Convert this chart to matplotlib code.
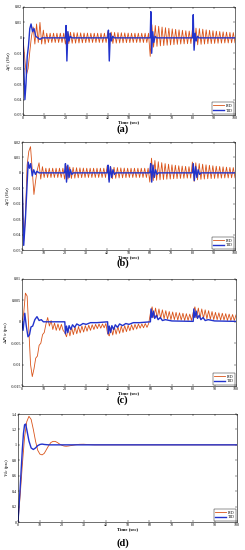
import numpy as np
import matplotlib
matplotlib.use("Agg")
import matplotlib.pyplot as plt
from matplotlib.ticker import FuncFormatter

plt.rcParams['font.family'] = ['Liberation Serif', 'DejaVu Serif']
plt.rcParams['mathtext.fontset'] = 'stix'
plt.rcParams['axes.unicode_minus'] = False

STEP = 0.8  # sampling step of the PID oscillation read-out (sec)

# ---- panel (a): delta f1 ----
a_pid = [0, -0.013, -0.024, -0.020, -0.009, 0.001, 0.007, -0.004, 0.009, -0.003,
         0.010, -0.004, 0.005, -0.004, 0.003, -0.003, 0.003, -0.003, 0.003, -0.003,
         0.003, -0.003, 0.003, -0.003, 0.003,
         -0.004, 0.004, -0.0037, 0.0036, -0.0035, 0.0034, -0.0034, 0.0033, -0.0033, 0.0032,
         -0.0032, 0.0031, -0.0031, 0.0031, -0.003, 0.003, -0.003, 0.003, -0.003, 0.003,
         -0.003, 0.003, -0.003, 0.003, -0.003,
         0.004, -0.004, 0.0037, -0.0036, 0.0035, -0.0034, 0.0034, -0.0033, 0.0033, -0.0032,
         0.0032, -0.0031, 0.0031, -0.0031, 0.003, -0.003, 0.003, -0.003, 0.003, -0.003,
         0.003, -0.003, 0.003, -0.003, 0.003,
         -0.012, 0.0085, -0.006, 0.008, -0.0055, 0.0075, -0.0052, 0.007, -0.005, 0.0066,
         -0.0048, 0.0062, -0.0046, 0.0058, -0.0044, 0.0055, -0.0042, 0.0052, -0.004, 0.0049,
         -0.0039, 0.0046, -0.0038, 0.0044, -0.0037,
         0.0065, -0.006, 0.0063, -0.0045, 0.006, -0.0042, 0.0056, -0.004, 0.0052, -0.0038,
         0.0049, -0.0037, 0.0046, -0.0036, 0.0043, -0.0035, 0.0041, -0.0034, 0.0039, -0.0033,
         0.0037, -0.0033, 0.0035, -0.0032, 0.0034, -0.0032]
a_tid_t = [0, 0.4, 0.9, 1.4, 2.0, 2.6, 3.2, 3.8, 4.5, 5.2, 6, 7, 8, 9,
           20, 20.3, 20.7, 21.2, 21.7, 22.3, 23,
           40, 40.3, 40.7, 41.2, 41.7, 42.3, 43,
           60, 60.3, 60.7, 61.2, 61.7, 62.3, 63,
           80, 80.3, 80.7, 81.2, 81.7, 82.3, 83, 100]
a_tid = [0, -0.02, -0.04, -0.03, -0.012, -0.005, 0.006, 0.009, 0.004, 0.006, 0.001, 0.0, -0.001, 0,
         0, 0.008, -0.015, 0.004, -0.002, 0.001, 0,
         0, 0.005, -0.015, 0.003, -0.002, 0.001, 0,
         0, 0.017, -0.010, 0.004, -0.003, 0.001, 0,
         0, 0.015, -0.008, 0.003, -0.002, 0.001, 0, 0]

# ---- panel (b): delta f2 ----
b_pid = [0, -0.044, -0.028, 0.005, 0.014, 0.017, 0.002, -0.014, -0.005, 0.002,
         0.0065, -0.004, 0.004, -0.003, 0.003, -0.003, 0.003, -0.003, 0.003, -0.003,
         0.003, -0.003, 0.003, -0.003, 0.003,
         -0.004, 0.0045, -0.004, 0.0038, -0.0036, 0.0035, -0.0034, 0.0033, -0.0032, 0.0032,
         -0.0031, 0.0031, -0.003, 0.003, -0.003, 0.003, -0.003, 0.003, -0.003, 0.003,
         -0.003, 0.003, -0.003, 0.003, -0.003,
         0.0045, -0.0045, 0.004, -0.0038, 0.0036, -0.0035, 0.0034, -0.0033, 0.0032, -0.0032,
         0.0031, -0.0031, 0.003, -0.003, 0.003, -0.003, 0.003, -0.003, 0.003, -0.003,
         0.003, -0.003, 0.003, -0.003, 0.003,
         -0.006, 0.0095, -0.005, 0.008, -0.0048, 0.0072, -0.0045, 0.0066, -0.0043, 0.006,
         -0.0041, 0.0056, -0.004, 0.0052, -0.0038, 0.0049, -0.0037, 0.0046, -0.0036, 0.0044,
         -0.0035, 0.0042, -0.0034, 0.004, -0.0034,
         0.007, -0.0055, 0.0065, -0.0045, 0.006, -0.0042, 0.0056, -0.004, 0.0052, -0.0038,
         0.0049, -0.0037, 0.0046, -0.0036, 0.0043, -0.0035, 0.0041, -0.0034, 0.0039, -0.0033,
         0.0037, -0.0033, 0.0035, -0.0032, 0.0034, -0.0032]
b_tid_t = [0, 0.8, 1.6, 2.3, 2.9, 3.5, 4.1, 4.8, 5.5, 6.3, 7, 8,
           20, 20.4, 20.9, 21.5, 22.1, 22.7, 23.4, 24,
           40, 40.4, 40.9, 41.5, 42.1, 42.7, 43.4, 44,
           60, 60.4, 60.9, 61.5, 62.1, 62.7, 63.4, 64,
           80, 80.4, 80.9, 81.5, 82.1, 82.7, 83.4, 84, 100]
b_tid = [0, -0.047, -0.03, -0.01, 0.007, 0.003, 0.006, -0.002, 0.002, -0.001, 0.001, 0,
         0, 0.006, -0.006, 0.005, -0.003, 0.002, -0.001, 0,
         0, 0.005, -0.006, 0.004, -0.003, 0.002, -0.001, 0,
         0, 0.006, -0.006, 0.005, -0.003, 0.002, -0.001, 0,
         0, 0.006, -0.005, 0.004, -0.003, 0.002, -0.001, 0, 0]

# ---- panel (c): delta P tie ----
c_pid = [0, 0.002, 0.0067, 0.006, -0.002, -0.010, -0.0128, -0.011, -0.0085, -0.008,
         -0.0055, -0.005, -0.003, -0.0025, -0.0005, 0.001, -0.001, 0.0003, -0.0018, -0.0003,
         -0.002, -0.0005, -0.002, -0.0006, -0.002,
         -0.0025, -0.0035, -0.0015, -0.0033, -0.0013, -0.003, -0.0012, -0.0028, -0.0011, -0.0026,
         -0.001, -0.0024, -0.0009, -0.0022, -0.0008, -0.002, -0.0007, -0.0018, -0.0006, -0.0016,
         -0.0005, -0.0015, -0.0005, -0.0014, -0.0004,
         -0.0028, -0.0033, -0.0013, -0.0031, -0.0012, -0.0029, -0.0011, -0.0027, -0.001, -0.0025,
         -0.0009, -0.0023, -0.0008, -0.0021, -0.0007, -0.0019, -0.0006, -0.0017, -0.0005, -0.0015,
         -0.0005, -0.0014, -0.0004, -0.0013, -0.0004,
         0.002, 0.0035, 0.001, 0.0032, 0.0009, 0.003, 0.0008, 0.0028, 0.0007, 0.0026,
         0.0006, 0.0024, 0.0005, 0.0023, 0.0005, 0.0022, 0.0004, 0.0021, 0.0004, 0.002,
         0.0003, 0.0019, 0.0003, 0.0018, 0.0003,
         0.0022, 0.0035, 0.001, 0.0032, 0.0009, 0.003, 0.0008, 0.0028, 0.0007, 0.0026,
         0.0006, 0.0024, 0.0005, 0.0022, 0.0005, 0.0021, 0.0004, 0.002, 0.0004, 0.0019,
         0.0003, 0.0018, 0.0003, 0.0017, 0.0003, 0.0016]
c_tid_t = [0, 0.5, 1.3, 2, 2.8, 3.5, 4.2, 5, 6, 7, 8, 9, 10,
           20, 20.3, 20.8, 21.4, 22, 22.8, 23.6, 24.6, 25.6, 27, 28.5, 30, 32, 35,
           40, 40.3, 40.8, 41.4, 42, 42.8, 43.6, 44.6, 45.6, 47, 48.5, 50, 52, 55,
           60, 60.3, 60.8, 61.4, 62, 62.8, 63.6, 64.6, 65.6, 67, 70,
           80, 80.3, 80.8, 81.4, 82, 82.8, 83.6, 84.6, 85.6, 87, 90, 100]
c_tid = [0, -0.002, 0.002, -0.001, -0.0035, -0.003, -0.0012, -0.001, 0.0005, 0.0012, 0.0003, 0.0005, 0,
         0, -0.0028, -0.001, -0.0025, -0.0009, -0.0018, -0.0007, -0.0013, -0.0005, -0.0009, -0.0004, -0.0006, -0.0002, -0.0002,
         0, -0.0028, -0.001, -0.0025, -0.0009, -0.0018, -0.0007, -0.0013, -0.0005, -0.0009, -0.0004, -0.0006, -0.0002, -0.0002,
         0, 0.003, 0.001, 0.0025, 0.0008, 0.0015, 0.0005, 0.001, 0.0003, 0.0005, 0.0002,
         0.0001, 0.003, 0.001, 0.0025, 0.0008, 0.0015, 0.0005, 0.001, 0.0003, 0.0005, 0.0002, 0.0001]

# ---- panel (d): voltage ----
d_pid_t = [0, 1, 2, 3, 4, 5, 6, 7, 8, 9, 10, 11, 12, 13, 14, 15, 16, 17, 18, 19, 20,
           21, 22, 23, 24, 26, 28, 30, 32, 35, 100]
d_pid = [0, 0.35, 0.75, 1.1, 1.3, 1.37, 1.33, 1.2, 1.05, 0.93, 0.88, 0.87, 0.89, 0.94, 0.99,
         1.03, 1.045, 1.045, 1.03, 1.01, 0.995, 0.985, 0.982, 0.985, 0.99, 1.0, 1.007, 1.008,
         1.004, 1.0, 1.0]
d_tid_t = [0, 1, 2, 2.5, 3, 3.5, 4, 5, 6, 7, 8, 9, 10, 11, 12, 14, 100]
d_tid = [0, 0.45, 0.95, 1.15, 1.26, 1.27, 1.2, 1.05, 0.96, 0.94, 0.96, 0.99, 1.005, 1.01,
         1.005, 1.0, 1.0]

ylabels = [r'$\Delta f_1$ (Hz)', r'$\Delta f_2$ (Hz)', r'$\Delta P_{tie}$ (pu)', r'$V_{dc}$ (pu)']
panel_tags = ['(a)', '(b)', '(c)', '(d)']
xticks = list(range(0, 101, 10))
yticks_list = [[-0.05, -0.04, -0.03, -0.02, -0.01, 0, 0.01, 0.02],
               [-0.05, -0.04, -0.03, -0.02, -0.01, 0, 0.01, 0.02],
               [-0.015, -0.01, -0.005, 0, 0.005, 0.01],
               [0, 0.2, 0.4, 0.6, 0.8, 1.0, 1.2, 1.4]]
ylims = [(-0.05, 0.02), (-0.05, 0.02), (-0.015, 0.01), (0, 1.4)]

PID_C = '#D95319'
TID_C = '#2233CC'

W, H = 245, 550
fig = plt.figure(figsize=(W / 100, H / 100), dpi=100)
# pixel boxes: left, right, top, bottom
boxes = [(23, 235, 7, 115), (22, 235, 142, 250), (22, 236, 279, 386), (18, 237, 414, 522)]
tag_y = [129, 263, 400, 543]

series = [
    ((STEP * np.arange(len(a_pid)), a_pid), (a_tid_t, a_tid)),
    ((STEP * np.arange(len(b_pid)), b_pid), (b_tid_t, b_tid)),
    ((STEP * np.arange(len(c_pid)), c_pid), (c_tid_t, c_tid)),
    ((d_pid_t, d_pid), (d_tid_t, d_tid)),
]

fmt = FuncFormatter(lambda v, p: ('%g' % round(v, 6)))

for k in range(4):
    l, r, t, b = boxes[k]
    ax = fig.add_axes([l / W, 1 - b / H, (r - l) / W, (b - t) / H])
    (px, py), (tx, ty) = series[k]
    ax.plot(px, py, color=PID_C, lw=0.6, label='PID')
    ax.plot(tx, ty, color=TID_C, lw=1.0, label='TID')
    ax.set_xlim(0, 100)
    ax.set_ylim(*ylims[k])
    ax.set_xticks(xticks)
    ax.set_yticks(yticks_list[k])
    ax.yaxis.set_major_formatter(fmt)
    ax.tick_params(direction='in', length=1.5, width=0.3, labelsize=3.0, pad=0.8,
                   top=True, right=True)
    for s in ax.spines.values():
        s.set_linewidth(0.4)
    ax.set_xlabel('Time (sec)', fontsize=3.4, fontweight='bold', labelpad=0.2)
    ax.set_ylabel(ylabels[k], fontsize=3.8, labelpad=0.5)
    leg = ax.legend(loc='lower right', fontsize=3.0, handlelength=2.5, borderpad=0.3,
                    labelspacing=0.2, handletextpad=0.5, borderaxespad=0.3, fancybox=False,
                    framealpha=1, edgecolor='black')
    leg.get_frame().set_linewidth(0.3)
    fig.text(0.5, 1 - tag_y[k] / H, panel_tags[k], ha='center', va='center',
             fontsize=7.5, fontweight='bold')

fig.savefig('out.png', dpi=100)
